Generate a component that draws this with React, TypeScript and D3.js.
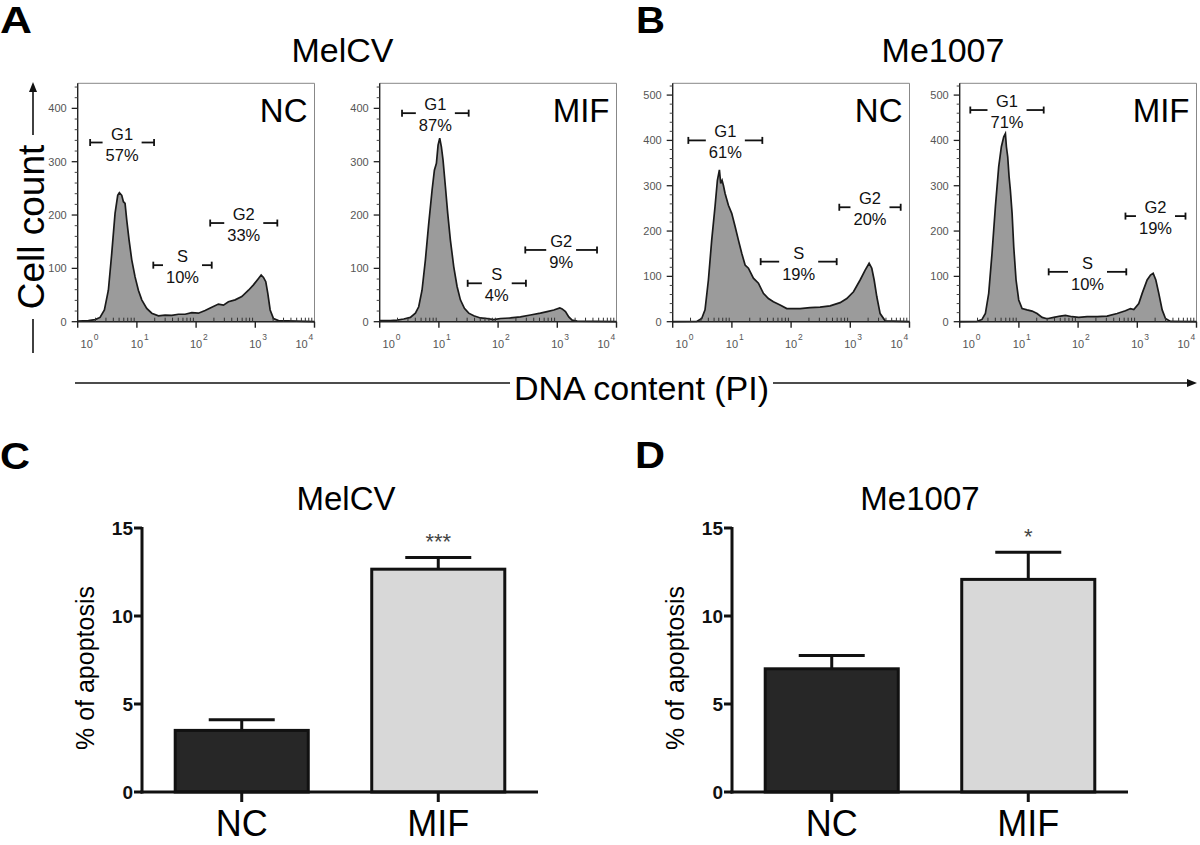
import React from "react";
import * as d3 from "d3";

type Pt = [number, number];
type Gate = { name: string; pct: string; lo: number; hi: number; level: number };

const FONT = "'Liberation Sans', Arial, Helvetica, sans-serif";

// ---------- Histogram data: [log10(DNA content), cell count] ----------
const melcvNC: Pt[] = [[0,1],[0.18,2],[0.293,4],[0.377,8],[0.451,22],[0.518,59],[0.575,128],[0.631,203],[0.676,237],[0.704,242],[0.744,237],[0.772,225],[0.8,222],[0.828,191],[0.868,153],[0.913,116],[0.969,84],[1.025,59],[1.082,41],[1.166,25],[1.251,16],[1.363,11],[1.476,12.5],[1.589,12],[1.701,14],[1.814,14],[1.927,17],[2.039,16],[2.152,21],[2.265,27],[2.377,33],[2.462,31],[2.546,37.5],[2.659,41],[2.772,47],[2.885,59],[2.969,69],[3.054,81],[3.099,87.5],[3.138,83],[3.177,75],[3.211,53],[3.251,22],[3.307,6],[3.392,2],[4,0]];
const melcvMIF: Pt[] = [[0,2],[0.18,2],[0.293,3],[0.406,5],[0.518,8],[0.603,16],[0.659,28],[0.715,59],[0.772,116],[0.828,184],[0.885,247],[0.924,284],[0.958,297],[0.986,331],[1.014,344],[1.042,328],[1.07,303],[1.11,253],[1.149,203],[1.194,153],[1.251,103],[1.307,66],[1.363,41],[1.431,25],[1.504,16],[1.589,11],[1.701,7],[1.814,6],[1.927,4],[2.039,6],[2.208,7],[2.377,9],[2.546,12.5],[2.715,16],[2.828,19],[2.941,22],[3.042,26],[3.082,24],[3.138,19],[3.194,9],[3.251,3],[3.335,1],[4,0]];
const me1007NC: Pt[] = [[0,0],[0.406,0.7],[0.49,7],[0.546,26],[0.603,92],[0.659,180],[0.715,254],[0.755,312],[0.789,335],[0.811,305],[0.834,312],[0.856,301],[0.885,283],[0.941,257],[0.997,239],[1.054,210],[1.11,180],[1.166,151],[1.223,125],[1.279,118],[1.363,96],[1.448,85],[1.532,62.5],[1.617,51],[1.701,44],[1.814,37],[1.927,29],[2.039,29],[2.152,29],[2.321,31],[2.49,32],[2.659,35],[2.828,42],[2.941,51],[3.054,66],[3.166,92],[3.251,114],[3.318,129],[3.363,118],[3.403,92],[3.448,55],[3.504,18],[3.589,2],[4,0]];
const me1007MIF: Pt[] = [[0,0],[0.293,0.7],[0.377,5],[0.434,18],[0.49,62.5],[0.546,151],[0.603,254],[0.659,342],[0.704,386],[0.744,408],[0.772,415],[0.789,386],[0.811,364],[0.834,320],[0.856,290],[0.885,239],[0.913,165],[0.952,92],[0.997,48],[1.054,29],[1.138,26],[1.223,23.5],[1.307,18],[1.392,9.6],[1.476,6.6],[1.589,9.6],[1.701,12.5],[1.786,14],[1.899,11],[2.011,9.6],[2.152,11],[2.321,11],[2.49,12.5],[2.659,18],[2.8,24],[2.885,29],[2.941,27],[3.025,40],[3.082,62.5],[3.166,92],[3.223,103],[3.268,107],[3.313,92],[3.363,62.5],[3.42,26],[3.476,7],[3.561,0.7],[4,0]];

// ---------- Gates: range in log10 units, level in counts ----------
const melcvNCGates: Gate[] = [
  { name: "G1", pct: "57%", lo: 0.21, hi: 1.29, level: 336 },
  { name: "S", pct: "10%", lo: 1.277, hi: 2.264, level: 106 },
  { name: "G2", pct: "33%", lo: 2.238, hi: 3.372, level: 185 },
];
const melcvMIFGates: Gate[] = [
  { name: "G1", pct: "87%", lo: 0.377, hi: 1.503, level: 391 },
  { name: "S", pct: "4%", lo: 1.486, hi: 2.47, level: 72 },
  { name: "G2", pct: "9%", lo: 2.459, hi: 3.671, level: 134.5 },
];
const me1007NCGates: Gate[] = [
  { name: "G1", pct: "61%", lo: 0.264, hi: 1.514, level: 400 },
  { name: "S", pct: "19%", lo: 1.486, hi: 2.77, level: 132.5 },
  { name: "G2", pct: "20%", lo: 2.814, hi: 3.851, level: 252.5 },
];
const me1007MIFGates: Gate[] = [
  { name: "G1", pct: "71%", lo: 0.179, hi: 1.419, level: 467 },
  { name: "S", pct: "10%", lo: 1.503, hi: 2.814, level: 110 },
  { name: "G2", pct: "19%", lo: 2.8, hi: 3.814, level: 233 },
];

const histXDecades = [0, 1, 2, 3, 4];
const histYTicksMelCV = [0, 100, 200, 300, 400];
const histYTicksMe1007 = [0, 100, 200, 300, 400, 500];

// ---------- Bar chart data ----------
const barCategories = ["NC", "MIF"];
const melcvApoptosis = [3.5, 12.66];
const melcvSem = [0.61, 0.67];
const melcvSig = ["", "***"];
const me1007Apoptosis = [7.0, 12.08];
const me1007Sem = [0.75, 1.54];
const me1007Sig = ["", "*"];
const barYTicks = [0, 5, 10, 15];

// ---------- helpers ----------
const CW: Record<string, number> = { "%": 0.889, G: 0.778, S: 0.667 };
const textW = (s: string, fs: number) =>
  s.split("").reduce((a, c) => a + (CW[c] ?? 0.556), 0) * fs;

const H_TOP = 83.3;
const H_BOTTOM = 321.7;
const H_W = 236.8;

function Histogram(props: {
  x0: number;
  data: Pt[];
  yMax: number;
  yTicks: number[];
  gates: Gate[];
  cond: string;
}) {
  const { x0, data, yMax, yTicks, gates, cond } = props;
  const xs = d3.scaleLog().domain([1, 1e4]).range([x0, x0 + H_W]);
  const ys = d3.scaleLinear().domain([0, yMax]).range([H_BOTTOM, H_TOP]);
  const area = d3
    .area<Pt>()
    .x((d) => xs(Math.pow(10, d[0])))
    .y0(ys(0))
    .y1((d) => ys(d[1]));
  const line = d3
    .line<Pt>()
    .x((d) => xs(Math.pow(10, d[0])))
    .y((d) => ys(d[1]));
  const minorY = d3.range(0, yMax, 20).filter((v) => v % 100 !== 0);
  const minorX = xs.ticks().filter((v) => {
    const l = Math.log10(v);
    return Math.abs(l - Math.round(l)) > 1e-6;
  });
  const gfs = 16.5;
  return (
    <g>
      <path
        d={`M${x0},${H_TOP}H${x0 + H_W}V${H_BOTTOM}`}
        fill="none"
        stroke="#888"
        strokeWidth={1}
      />
      <path d={area(data) || ""} fill="#9b9b9b" />
      <path d={line(data) || ""} fill="none" stroke="#1a1a1a" strokeWidth={1.7} />
      <line x1={x0} x2={x0} y1={H_TOP} y2={H_BOTTOM + 0.5} stroke="#222" strokeWidth={1.4} />
      {yTicks.map((v) => (
        <g key={"y" + v}>
          <line x1={x0 - 6} x2={x0} y1={ys(v)} y2={ys(v)} stroke="#222" strokeWidth={1.3} />
          <text
            x={x0 - 11}
            y={ys(v) + 4}
            fontSize={11}
            fill="#555"
            textAnchor="end"
            fontFamily={FONT}
          >
            {v}
          </text>
        </g>
      ))}
      {minorY.map((v) => (
        <line key={"my" + v} x1={x0 - 3} x2={x0} y1={ys(v)} y2={ys(v)} stroke="#444" strokeWidth={1} />
      ))}
      <line x1={x0} x2={x0 + H_W} y1={H_BOTTOM} y2={H_BOTTOM} stroke="#222" strokeWidth={1.6} />
      {histXDecades.map((k) => {
        const tx = xs(Math.pow(10, k));
        const cx = Math.max(x0 + 9, Math.min(x0 + H_W - 13, tx));
        return (
          <g key={"x" + k}>
            <line x1={tx} x2={tx} y1={H_BOTTOM} y2={H_BOTTOM + 6} stroke="#222" strokeWidth={1.4} />
            <text x={cx} y={348} fontSize={11} fill="#555" textAnchor="middle" fontFamily={FONT}>
              10
            </text>
            <text x={cx + 7} y={340} fontSize={8.5} fill="#555" fontFamily={FONT}>
              {k}
            </text>
          </g>
        );
      })}
      {minorX.map((v) => (
        <line
          key={"mx" + v}
          x1={xs(v)}
          x2={xs(v)}
          y1={H_BOTTOM - 4}
          y2={H_BOTTOM}
          stroke="#333"
          strokeWidth={1}
        />
      ))}
      {gates.map((g) => {
        const x1 = xs(Math.pow(10, g.lo));
        const x2 = xs(Math.pow(10, g.hi));
        const y = ys(g.level);
        const cx = (x1 + x2) / 2;
        const gap = Math.max(textW(g.name, gfs), textW(g.pct, gfs)) + 6;
        return (
          <g key={g.name}>
            <line x1={x1} x2={cx - gap / 2} y1={y} y2={y} stroke="#111" strokeWidth={1.8} />
            <line x1={cx + gap / 2} x2={x2} y1={y} y2={y} stroke="#111" strokeWidth={1.8} />
            <line x1={x1} x2={x1} y1={y - 3.5} y2={y + 3.5} stroke="#111" strokeWidth={1.8} />
            <line x1={x2} x2={x2} y1={y - 3.5} y2={y + 3.5} stroke="#111" strokeWidth={1.8} />
            <text x={cx} y={y - 3} fontSize={gfs} textAnchor="middle" fontFamily={FONT} fill="#111">
              {g.name}
            </text>
            <text x={cx} y={y + 18} fontSize={gfs} textAnchor="middle" fontFamily={FONT} fill="#111">
              {g.pct}
            </text>
          </g>
        );
      })}
      <text
        x={x0 + H_W - 7}
        y={121.7}
        fontSize={33}
        textAnchor="end"
        fontFamily={FONT}
        fill="#000"
      >
        {cond}
      </text>
    </g>
  );
}

const B_Y0 = 792;
const B_Y15 = 528;
const B_LEN = 396;

function BarPanel(props: {
  x0: number;
  title: string;
  titleX: number;
  values: number[];
  sem: number[];
  sig: string[];
}) {
  const { x0, title, titleX, values, sem, sig } = props;
  const ys = d3.scaleLinear().domain([0, 15]).range([B_Y0, B_Y15]);
  const xb = d3
    .scaleBand<string>()
    .domain(barCategories)
    .range([x0, x0 + B_LEN])
    .paddingInner(0.323)
    .paddingOuter(0.169);
  const bw = xb.bandwidth();
  const fills = ["#272727", "#d8d8d8"];
  return (
    <g fontFamily={FONT}>
      <text x={titleX} y={510} fontSize={33} textAnchor="middle" fill="#000">
        {title}
      </text>
      <text
        transform={`translate(${x0 - 48},668) rotate(-90)`}
        fontSize={25}
        textAnchor="middle"
        fill="#000"
      >
        % of apoptosis
      </text>
      {barCategories.map((c, i) => {
        const bx = xb(c) as number;
        const cx = bx + bw / 2;
        const top = ys(values[i]);
        const et = ys(values[i] + sem[i]);
        return (
          <g key={c}>
            <rect
              x={bx}
              y={top}
              width={bw}
              height={B_Y0 - top}
              fill={fills[i]}
              stroke="#111"
              strokeWidth={3}
            />
            <line x1={cx} x2={cx} y1={top} y2={et} stroke="#111" strokeWidth={3} />
            <line x1={cx - 33} x2={cx + 33} y1={et} y2={et} stroke="#111" strokeWidth={3} />
            {sig[i] && (
              <text x={cx} y={et - 8.5} fontSize={22} textAnchor="middle" fill="#444">
                {sig[i]}
              </text>
            )}
            <line x1={cx} x2={cx} y1={B_Y0} y2={B_Y0 + 10} stroke="#111" strokeWidth={3} />
            <text x={cx} y={836} fontSize={36} textAnchor="middle" fill="#000">
              {c}
            </text>
          </g>
        );
      })}
      <line x1={x0} x2={x0} y1={B_Y15 - 1} y2={B_Y0 + 1.5} stroke="#111" strokeWidth={3} />
      <line x1={x0 - 1.5} x2={x0 + B_LEN} y1={B_Y0} y2={B_Y0} stroke="#111" strokeWidth={3} />
      {barYTicks.map((v) => (
        <g key={v}>
          <line x1={x0 - 8} x2={x0} y1={ys(v)} y2={ys(v)} stroke="#111" strokeWidth={3} />
          <text x={x0 - 9} y={ys(v) + 7} fontSize={19} fontWeight="bold" textAnchor="end" fill="#111">
            {v}
          </text>
        </g>
      ))}
    </g>
  );
}

function Arrowhead({ x, y, dir }: { x: number; y: number; dir: "up" | "right" }) {
  const d =
    dir === "up"
      ? `M${x},${y} L${x - 4},${y + 10} L${x + 4},${y + 10} Z`
      : `M${x},${y} L${x - 10},${y - 4} L${x - 10},${y + 4} Z`;
  return <path d={d} fill="#111" />;
}

export default function App() {
  return (
    <svg
      width={1200}
      height={845}
      style={{ position: "absolute", left: 0, top: 0, background: "#fff" }}
      fontFamily={FONT}
    >
      <rect x={0} y={0} width={1200} height={845} fill="#fff" />
      <text x={0} y={33} fontSize={36} fontWeight="bold" textLength={32} lengthAdjust="spacingAndGlyphs">A</text>
      <text x={636} y={33} fontSize={36} fontWeight="bold" textLength={29} lengthAdjust="spacingAndGlyphs">B</text>
      <text x={0} y={469} fontSize={36} fontWeight="bold" textLength={30} lengthAdjust="spacingAndGlyphs">C</text>
      <text x={635} y={468} fontSize={36} fontWeight="bold" textLength={30} lengthAdjust="spacingAndGlyphs">D</text>

      <text x={342.5} y={62} fontSize={34} textAnchor="middle">MelCV</text>
      <text x={943} y={62} fontSize={34} textAnchor="middle">Me1007</text>

      <text transform="translate(44,227) rotate(-90)" fontSize={37} textAnchor="middle">
        Cell count
      </text>
      <line x1={33} x2={33} y1={353} y2={227 + 92} stroke="#111" strokeWidth={1.6} />
      <line x1={33} x2={33} y1={227 - 92} y2={90} stroke="#111" strokeWidth={1.6} />
      <Arrowhead x={33} y={82} dir="up" />

      <Histogram x0={77.7} data={melcvNC} yMax={447} yTicks={histYTicksMelCV} gates={melcvNCGates} cond="NC" />
      <Histogram x0={379.7} data={melcvMIF} yMax={447} yTicks={histYTicksMelCV} gates={melcvMIFGates} cond="MIF" />
      <Histogram x0={672.7} data={me1007NC} yMax={526} yTicks={histYTicksMe1007} gates={me1007NCGates} cond="NC" />
      <Histogram x0={959.7} data={me1007MIF} yMax={526} yTicks={histYTicksMe1007} gates={me1007MIFGates} cond="MIF" />

      <line x1={75} x2={510} y1={383} y2={383} stroke="#111" strokeWidth={1.6} />
      <text x={641.5} y={400} fontSize={34} textAnchor="middle">DNA content (PI)</text>
      <line x1={773} x2={1190} y1={383} y2={383} stroke="#111" strokeWidth={1.6} />
      <Arrowhead x={1197} y={383} dir="right" />

      <BarPanel x0={142} title="MelCV" titleX={346} values={melcvApoptosis} sem={melcvSem} sig={melcvSig} />
      <BarPanel x0={732} title="Me1007" titleX={920} values={me1007Apoptosis} sem={me1007Sem} sig={me1007Sig} />
    </svg>
  );
}
